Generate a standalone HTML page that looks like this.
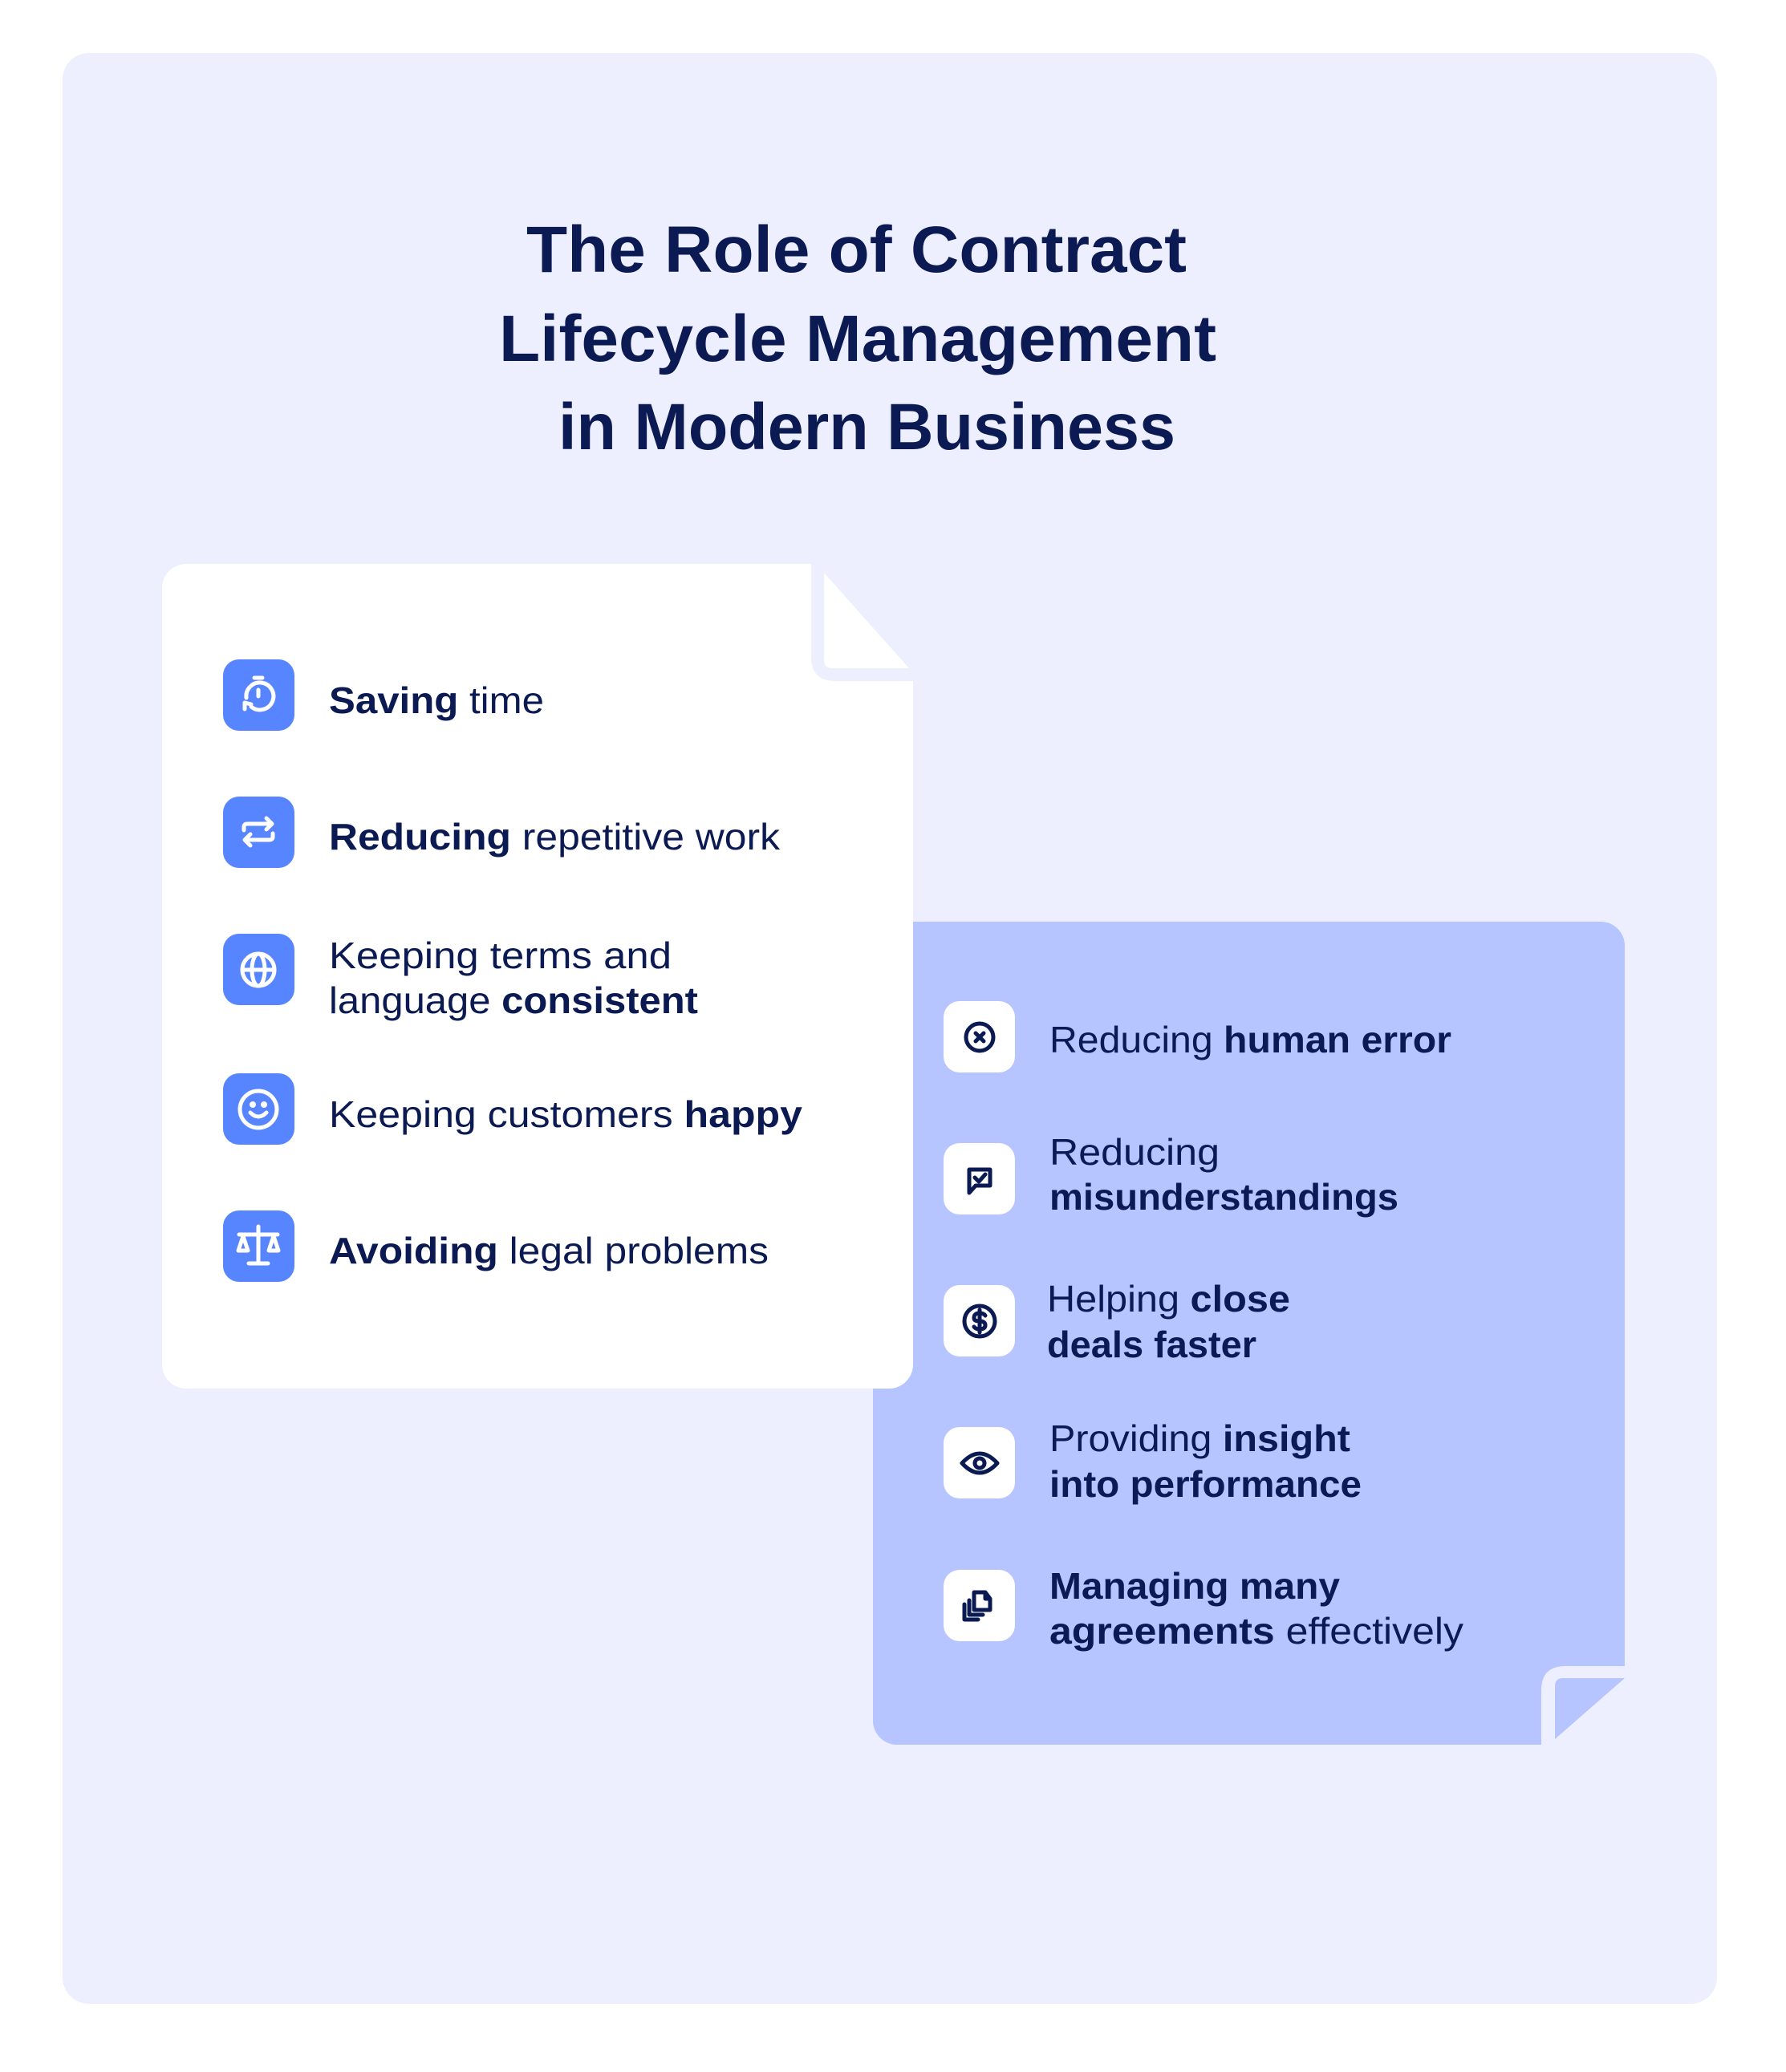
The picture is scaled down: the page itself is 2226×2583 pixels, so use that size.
<!DOCTYPE html>
<html><head><meta charset="utf-8"><style>
html,body{margin:0;padding:0;background:#fff;}
svg{display:block;}
text{font-family:"Liberation Sans",sans-serif;fill:#0B1A52;}
</style></head><body>
<svg width="2226" height="2583" viewBox="0 0 2226 2583" xmlns="http://www.w3.org/2000/svg">
<rect x="0" y="0" width="2226" height="2583" fill="#fff"/>
<rect x="78" y="66" width="2062" height="2432" rx="33" fill="#EDEEFE"/>

<!-- Title -->
<g font-weight="bold" font-size="82">
<text x="656" y="339" textLength="823" lengthAdjust="spacingAndGlyphs">The Role of Contract</text>
<text x="622" y="450" textLength="894" lengthAdjust="spacingAndGlyphs">Lifecycle Management</text>
<text x="696" y="560" textLength="769" lengthAdjust="spacingAndGlyphs">in Modern Business</text>
</g>

<!-- Blue card -->
<rect x="1088" y="1149" width="937" height="1026" rx="30" fill="#B6C4FF"/>
<path d="M1921,2175 L1921,2107 Q1921,2077 1951,2077 L2040,2077 L2040,2190 L1921,2190 Z" fill="#EDEEFE"/>
<path d="M1938,2168 L1938,2102 Q1938,2092 1948,2092 L2025,2092 Z" fill="#B6C4FF"/>

<!-- White card -->
<rect x="202" y="703" width="936" height="1028" rx="30" fill="#fff"/>
<path d="M1011,690 L1011,819 Q1011,849 1041,849 L1150,849 L1150,690 Z" fill="#EDEEFE"/>
<path d="M1027,714 L1027,823 Q1027,833 1037,833 L1133,833 Z" fill="#fff"/>

<!-- Left icons -->
<g fill="#5784FF">
<rect x="278" y="822" width="89" height="89" rx="20"/>
<rect x="278" y="993" width="89" height="89" rx="20"/>
<rect x="278" y="1164" width="89" height="89" rx="20"/>
<rect x="278" y="1338" width="89" height="89" rx="20"/>
<rect x="278" y="1509" width="89" height="89" rx="20"/>
</g>
<g stroke="#fff" stroke-width="5" fill="none" stroke-linecap="round" stroke-linejoin="round">
<g transform="translate(322,866)">
<line x1="-5" y1="-21" x2="5" y2="-21"/>
<path d="M-15,4 A17,17 0 1 1 -9,15"/>
<path d="M-17,18 L-17,10 L-9,12"/>
<line x1="0" y1="-6" x2="0" y2="2"/>
</g>
<g transform="translate(322,1037)">
<path d="M-18,-2 L-18,-6 Q-18,-10 -14,-10 L17,-10 M10,-17 L17,-10 L10,-3"/>
<path d="M18,2 L18,6 Q18,10 14,10 L-17,10 M-10,17 L-17,10 L-10,3"/>
</g>
<g transform="translate(322,1209)">
<circle r="20"/><ellipse rx="8" ry="20"/><line x1="-20" y1="0" x2="20" y2="0"/>
</g>
<g transform="translate(322,1383)">
<circle r="23"/><path d="M-10,4 Q0,14 10,4"/>
<circle cx="-7" cy="-6" r="1.5" fill="#fff"/><circle cx="7" cy="-6" r="1.5" fill="#fff"/>
</g>
<g transform="translate(322,1553)">
<line x1="0" y1="-24" x2="0" y2="22"/><line x1="-12" y1="22" x2="12" y2="22"/>
<line x1="-24" y1="-14" x2="24" y2="-14"/>
<path d="M-19,-12 L-25,6 L-13,6 Z"/><path d="M19,-12 L13,6 L25,6 Z"/>
</g>
</g>

<!-- Left text -->
<g font-size="46">
<text x="410" y="889" textLength="268" lengthAdjust="spacingAndGlyphs"><tspan font-weight="bold">Saving</tspan> time</text>
<text x="410" y="1059" textLength="562" lengthAdjust="spacingAndGlyphs"><tspan font-weight="bold">Reducing</tspan> repetitive work</text>
<text x="410" y="1207" textLength="427" lengthAdjust="spacingAndGlyphs">Keeping terms and</text>
<text x="410" y="1263" textLength="460" lengthAdjust="spacingAndGlyphs">language <tspan font-weight="bold">consistent</tspan></text>
<text x="410" y="1405" textLength="590" lengthAdjust="spacingAndGlyphs">Keeping customers <tspan font-weight="bold">happy</tspan></text>
<text x="410" y="1575" textLength="548" lengthAdjust="spacingAndGlyphs"><tspan font-weight="bold">Avoiding</tspan> legal problems</text>
</g>

<!-- Right icons -->
<g fill="#fff">
<rect x="1176" y="1248" width="89" height="89" rx="20"/>
<rect x="1176" y="1425" width="89" height="89" rx="20"/>
<rect x="1176" y="1602" width="89" height="89" rx="20"/>
<rect x="1176" y="1779" width="89" height="89" rx="20"/>
<rect x="1176" y="1957" width="89" height="89" rx="20"/>
</g>
<g stroke="#0B1A52" stroke-width="5" fill="none" stroke-linecap="round" stroke-linejoin="round">
<g transform="translate(1221,1293)">
<circle r="17"/><line x1="-5" y1="-5" x2="5" y2="5"/><line x1="5" y1="-5" x2="-5" y2="5"/>
</g>
<g transform="translate(1221,1470)">
<path d="M-13,17 L-13,-12 L13,-12 L13,8 L-5,8 Z"/><path d="M-6,-2 L-1,3 L7,-6"/>
</g>
<g transform="translate(1221,1647)">
<circle r="19"/>
<path d="M7,-7 Q5,-10 0,-10 Q-7,-10 -7,-4 Q-7,0 0,0 Q7,0 7,5 Q7,10 0,10 Q-5,10 -7,7"/>
<line x1="0" y1="-14" x2="0" y2="14"/>
</g>
<g transform="translate(1221,1824)">
<path d="M-22,0 Q0,-24 22,0 Q0,24 -22,0 Z"/><circle r="6"/>
</g>
<g transform="translate(1221,2001)">
<path d="M-7,-10 L-7,6 L13,6 L13,-8 L7,-16 L-7,-16 Z M7,-16 L7,-8 L13,-8"/>
<path d="M-13,-6 L-13,12 L4,12"/>
<path d="M-19,-1 L-19,18 L-2,18"/>
</g>
</g>

<!-- Right text -->
<g font-size="46">
<text x="1308" y="1312" textLength="501" lengthAdjust="spacingAndGlyphs">Reducing <tspan font-weight="bold">human error</tspan></text>
<text x="1308" y="1452" textLength="212" lengthAdjust="spacingAndGlyphs">Reducing</text>
<text x="1308" y="1508" textLength="435" lengthAdjust="spacingAndGlyphs" font-weight="bold">misunderstandings</text>
<text x="1305" y="1635" textLength="303" lengthAdjust="spacingAndGlyphs">Helping <tspan font-weight="bold">close</tspan></text>
<text x="1305" y="1692" textLength="261" lengthAdjust="spacingAndGlyphs" font-weight="bold">deals faster</text>
<text x="1308" y="1809" textLength="375" lengthAdjust="spacingAndGlyphs">Providing <tspan font-weight="bold">insight</tspan></text>
<text x="1308" y="1866" textLength="389" lengthAdjust="spacingAndGlyphs" font-weight="bold">into performance</text>
<text x="1308" y="1993" textLength="362" lengthAdjust="spacingAndGlyphs" font-weight="bold">Managing many</text>
<text x="1308" y="2049" textLength="516" lengthAdjust="spacingAndGlyphs"><tspan font-weight="bold">agreements</tspan> effectively</text>
</g>
</svg>
</body></html>
